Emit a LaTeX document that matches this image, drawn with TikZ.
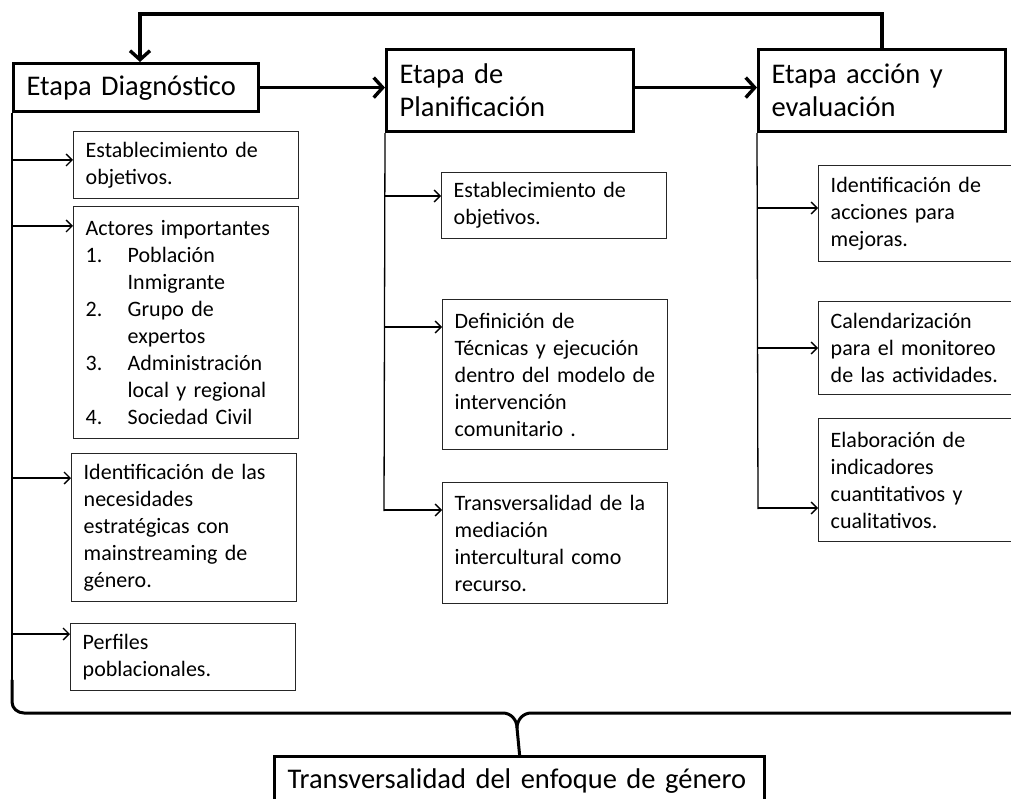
\documentclass[tikz,border=0pt]{standalone}
\usepackage{fontspec}
\setmainfont{Carlito}[WordSpace=0.7]
\usetikzlibrary{arrows.meta}
\tikzset{
  head/.style={draw, line width=3.2pt, anchor=north west, inner xsep=13pt, inner ysep=0pt, align=left, font=\fontsize{28.5}{33}\selectfont},
  sub/.style={draw=black!85, line width=1.4pt, anchor=north west, inner xsep=12pt, inner ysep=0pt, align=left, font=\fontsize{22}{27}\selectfont},
  trunk/.style={line width=1.3pt},
  thinarrow/.style={line width=1.3pt, -{Straight Barb[length=6pt,width=12pt,line width=1.3pt]}},
  thickarrow/.style={line width=3.4pt, -{Straight Barb[length=9pt,width=20pt]}},
  bracestyle/.style={line width=3pt, line cap=round, line join=round},
}
\newcommand{\numitem}[1]{\makebox[42pt][l]{#1}}
\begin{document}
\begin{tikzpicture}[x=1pt,y=-1pt]
\useasboundingbox (0,0) rectangle (1011,799);
\clip (0,0) rectangle (1011,799);

% headers
\node[head, minimum width=245pt, minimum height=48pt, text width=219pt] (diag) at (12,62) {Etapa Diagnóstico};
\node[head, minimum width=247pt, minimum height=82pt, text width=221pt] (plan) at (385,48) {Etapa de\\Planificación};
\node[head, minimum width=247pt, minimum height=82pt, text width=221pt] (acc) at (757,48) {Etapa acción y\\evaluación};

% diagnostico sub boxes
\node[sub, minimum width=225pt, minimum height=67pt, text width=201pt] (d1) at (73,131) {Establecimiento de\\objetivos.};
\node[sub, minimum width=225pt, minimum height=232pt, text width=201pt] (d2) at (73,206) {Actores importantes\\\numitem{1.}Población\\\hspace*{42pt}Inmigrante\\\numitem{2.}Grupo de\\\hspace*{42pt}expertos\\\numitem{3.}Administración\\\hspace*{42pt}local y regional\\\numitem{4.}Sociedad Civil};
\node[sub, minimum width=225pt, minimum height=148pt, text width=201pt] (d3) at (71,453) {Identificación de las\\necesidades\\estratégicas con\\mainstreaming de\\género.};
\node[sub, minimum width=225pt, minimum height=67pt, text width=201pt] (d4) at (70,623) {Perfiles\\poblacionales.};

% planificacion sub boxes
\node[sub, minimum width=225pt, minimum height=66pt, text width=201pt] (p1) at (441,172) {Establecimiento de\\objetivos.};
\node[sub, minimum width=225pt, minimum height=150pt, text width=201pt] (p2) at (442,299) {Definición de\\Técnicas y ejecución\\dentro del modelo de\\intervención\\comunitario .};
\node[sub, minimum width=225pt, minimum height=121pt, text width=201pt] (p3) at (442,482) {Transversalidad de la\\mediación\\intercultural como\\recurso.};

% accion sub boxes
\node[sub, minimum width=225pt, minimum height=96pt, text width=201pt] (a1) at (818,165) {Identificación de\\acciones para\\mejoras.};
\node[sub, minimum width=225pt, minimum height=93pt, text width=201pt] (a2) at (818,301) {Calendarización\\para el monitoreo\\de las actividades.};
\node[sub, minimum width=225pt, minimum height=123pt, text width=201pt] (a3) at (818,418) {Elaboración de\\indicadores\\cuantitativos y\\cualitativos.};

% bottom box
\node[head, minimum width=490pt, minimum height=48pt, text width=464pt] (tv) at (273,755) {Transversalidad del enfoque de género};

% top feedback loop
\coordinate (t1) at (140,14);
\coordinate (t2) at (882,14);
\draw[thickarrow] (acc.north -| t2) -- (t2) -- (t1) -- (diag.north -| t1);

% header arrows
\draw[thickarrow] (diag.east) -- (plan.west |- diag.east);
\draw[thickarrow] (plan.east |- diag.east) -- (acc.west |- diag.east);

% diagnostico trunk
\coordinate (dend) at (12,688);
\coordinate (db1) at (12,160);
\coordinate (db2) at (12,226);
\coordinate (db3) at (12,478);
\coordinate (db4) at (12,634);
\draw[trunk] (diag.south west) -- (dend);
\draw[thinarrow] (db1) -- (d1.west |- db1);
\draw[thinarrow] (db2) -- (d2.west |- db2);
\draw[thinarrow] (db3) -- (d3.west |- db3);
\draw[thinarrow] (db4) -- (d4.west |- db4);

% planificacion trunk
\coordinate (pend) at (384,511);
\coordinate (pb1) at (384,196);
\coordinate (pb2) at (384,327);
\coordinate (pb3) at (384,510);
\draw[trunk] (plan.south west) -- (pend);
\draw[thinarrow] (pb1) -- (p1.west |- pb1);
\draw[thinarrow] (pb2) -- (p2.west |- pb2);
\draw[thinarrow] (pb3) -- (p3.west |- pb3);

% accion trunk
\coordinate (aend) at (758,509);
\coordinate (ab1) at (758,208);
\coordinate (ab2) at (758,348);
\coordinate (ab3) at (758,508);
\draw[trunk] (acc.south west) -- (aend);
\draw[thinarrow] (ab1) -- (a1.west |- ab1);
\draw[thinarrow] (ab2) -- (a2.west |- ab2);
\draw[thinarrow] (ab3) -- (a3.west |- ab3);

% brace
\coordinate (cusp) at (517,728);
\coordinate (bl) at (12,680);
\coordinate (br) at (1030,713);
\draw[bracestyle] (bl) -- (12,702) to[out=-90,in=180] (24,713) -- (503,713) to[out=0,in=90] (cusp) -- (tv.north);
\draw[bracestyle] (br) -- (531,713) to[out=180,in=90] (cusp);
\end{tikzpicture}
\end{document}
